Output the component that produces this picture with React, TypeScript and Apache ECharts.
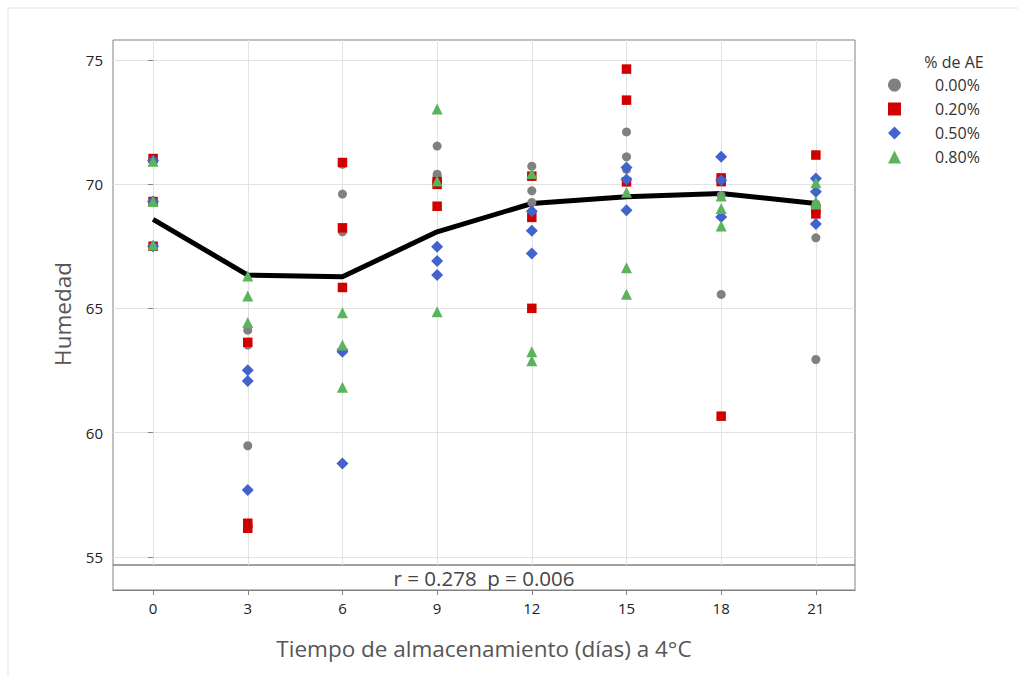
import React, { useEffect, useRef } from "react";
import * as echarts from "echarts";

const days = [0, 3, 6, 9, 12, 15, 18, 21];
const groupNames = ["0.00%", "0.20%", "0.50%", "0.80%"];
const humedad000 = [[71.0, 69.3, 67.5], [64.12, 63.52, 59.47], [70.8, 69.6, 68.08], [71.53, 70.4, 70.3], [70.72, 69.73, 69.26], [72.1, 71.1, 70.59], [70.1, 69.55, 65.56], [69.2, 67.84, 62.94]];
const humedad020 = [[71.03, 69.3, 67.5], [63.63, 56.35, 56.15], [70.87, 68.24, 65.84], [70.1, 69.99, 69.11], [70.32, 68.66, 65.0], [74.63, 73.38, 70.09], [70.25, 70.1, 60.66], [71.17, 69.0, 68.8]];
const humedad050 = [[70.95, 69.3, 67.5], [62.51, 62.08, 57.69], [63.33, 63.25, 58.76], [67.48, 66.91, 66.34], [68.91, 68.12, 67.21], [70.67, 70.19, 68.95], [71.1, 70.16, 68.68], [70.23, 69.69, 68.39]];
const humedad080 = [[70.92, 69.3, 67.55], [66.3, 65.5, 64.43], [64.82, 63.52, 61.82], [73.02, 70.13, 64.86], [70.43, 63.25, 62.89], [69.67, 66.63, 65.57], [69.52, 69.02, 68.31], [70.05, 69.29, 69.2]];
const lineValues = [68.58, 66.34, 66.27, 68.08, 69.22, 69.49, 69.62, 69.22];
const yTicks = [55, 60, 65, 70, 75];
const xTicks = [0, 3, 6, 9, 12, 15, 18, 21];
const annotation = "r = 0.278  p = 0.006";
const yTitle = "Humedad";
const xTitle = "Tiempo de almacenamiento (días) a 4°C";
const legendTitle = "% de AE";

const FONT = "'Open Sans', 'Noto Sans', sans-serif";

function toPoints(groups: number[][]) {
  const pts: number[][] = [];
  groups.forEach((vals, i) => vals.forEach((v) => pts.push([days[i], v])));
  return pts;
}

export default function App() {
  const ref = useRef<HTMLDivElement>(null);
  useEffect(() => {
    if (!ref.current) return;
    const chart = echarts.init(ref.current, null, { renderer: "svg" });
    const gl = 113, gt = 40, gw = 742, gh = 525, strip = 25;
    const styles = [
      { data: humedad000, symbol: "circle", size: 9, color: "#808080" },
      { data: humedad020, symbol: "rect", size: 9.5, color: "#d10000" },
      { data: humedad050, symbol: "diamond", size: 12, color: "#4262cc" },
      { data: humedad080, symbol: "triangle", size: 11, color: "#59b45c" },
    ];
    chart.setOption({
      animation: false,
      textStyle: { fontFamily: FONT },
      grid: { left: gl, top: gt, width: gw, height: gh, show: true, borderColor: "#808080", borderWidth: 1, backgroundColor: "transparent" },
      xAxis: {
        type: "value",
        min: -1.27,
        max: 22.24,
        minInterval: 3,
        maxInterval: 3,
        offset: strip,
        axisLine: { show: true, lineStyle: { color: "#808080" } },
        axisTick: { show: true, length: 5, lineStyle: { color: "#808080" }, customValues: xTicks },
        axisLabel: { color: "#222", fontSize: 15, margin: 10, customValues: xTicks, fontFamily: FONT },
        splitLine: { show: true, lineStyle: { color: "#e2e2e2", width: 1 } },
        name: xTitle,
        nameLocation: "middle",
        nameGap: 47,
        nameTextStyle: { fontSize: 22.5, color: "#555", fontFamily: FONT },
      },
      yAxis: {
        type: "value",
        min: 54.67,
        max: 75.8,
        minInterval: 5,
        maxInterval: 5,
        axisLine: { show: false },
        axisTick: { show: true, length: 5, lineStyle: { color: "#808080" }, customValues: yTicks },
        axisLabel: { color: "#222", fontSize: 15, margin: 10, customValues: yTicks, fontFamily: FONT },
        splitLine: { show: true, lineStyle: { color: "#e2e2e2", width: 1 } },
      },
      legend: {
        data: groupNames,
        orient: "vertical",
        left: 888,
        top: 77,
        padding: 0,
        itemWidth: 13,
        itemHeight: 13,
        itemGap: 8,
        textStyle: { fontSize: 16, lineHeight: 16, color: "#333", padding: [0, 0, 0, 29], fontFamily: FONT },
      },
      graphic: [
        { type: "line", shape: { x1: 8, y1: 8, x2: 1018, y2: 8 }, style: { stroke: "#e2e2e2", lineWidth: 1 }, silent: true },
        { type: "line", shape: { x1: 8, y1: 8, x2: 8, y2: 677 }, style: { stroke: "#e2e2e2", lineWidth: 1 }, silent: true },
        { type: "rect", shape: { x: gl, y: gt + gh, width: gw, height: strip }, style: { fill: "none", stroke: "#808080", lineWidth: 1 }, silent: true },
        { type: "text", x: gl + gw / 2, y: gt + gh + 13, style: { text: annotation, fontSize: 20.5, fill: "#444", align: "center", verticalAlign: "middle", fontFamily: FONT }, silent: true },
        { type: "text", x: 954, y: 62, style: { text: legendTitle, fontSize: 16, fill: "#333", align: "center", verticalAlign: "middle", fontFamily: FONT }, silent: true },
        { type: "text", x: 62, y: 314, rotation: Math.PI / 2, style: { text: yTitle, fontSize: 22.5, fill: "#555", align: "center", verticalAlign: "middle", fontFamily: FONT }, silent: true },
      ],
      series: [
        {
          type: "line",
          name: "media",
          data: days.map((d, i) => [d, lineValues[i]]),
          symbol: "none",
          lineStyle: { color: "#000", width: 5 },
          itemStyle: { color: "#000" },
          z: 1,
        },
        ...styles.map((s, i) => ({
          type: "scatter",
          name: groupNames[i],
          data: toPoints(s.data),
          symbol: s.symbol,
          symbolSize: s.size,
          itemStyle: { color: s.color, opacity: 1 },
          z: 2 + i,
        })),
      ],
    });
    return () => chart.dispose();
  }, []);
  return <div ref={ref} style={{ position: "absolute", left: 0, top: 0, width: 1018, height: 677 }} />;
}
